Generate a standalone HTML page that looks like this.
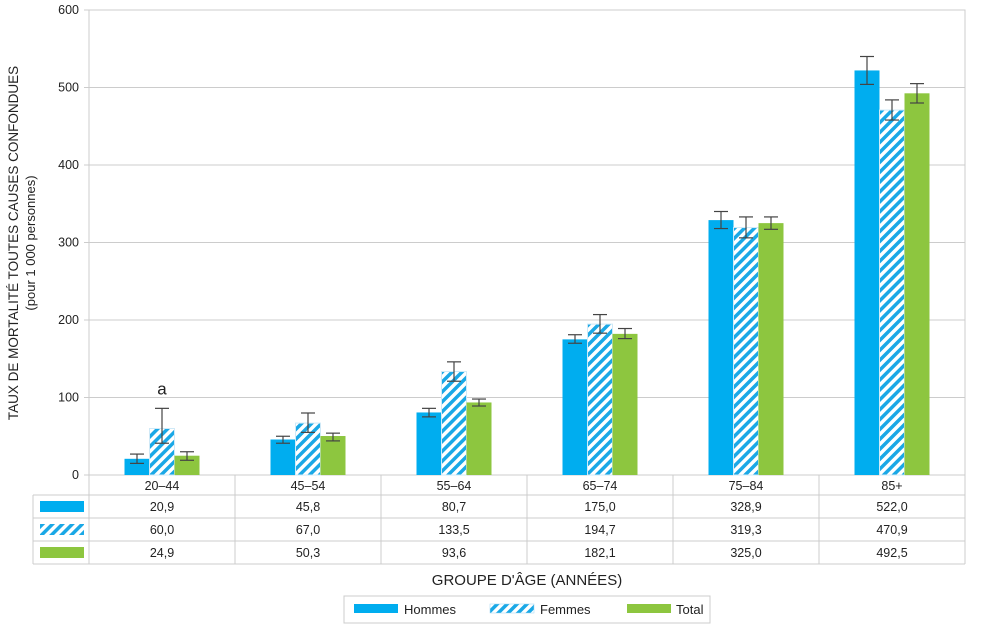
<!DOCTYPE html>
<html><head><meta charset="utf-8"><style>
body{margin:0;background:#fff;font-family:"Liberation Sans",sans-serif;}
svg text{font-family:"Liberation Sans",sans-serif;fill:#222;}
</style></head><body>
<svg id="chart" width="982" height="630" xmlns="http://www.w3.org/2000/svg">
<defs>
<pattern id="hatch" patternUnits="userSpaceOnUse" width="7" height="7" patternTransform="rotate(45)">
<rect width="7" height="7" fill="#fff"/><rect width="3.5" height="7" fill="#1aa8e6"/>
</pattern>
</defs>
<g id="grid"></g><g id="bars"></g><g id="table"></g>
<text transform="translate(18,243) rotate(-90)" text-anchor="middle" font-size="13.5">TAUX DE MORTALITÉ TOUTES CAUSES CONFONDUES</text>
<text transform="translate(35,243) rotate(-90)" text-anchor="middle" font-size="13">(pour 1 000 personnes)</text>
<text x="527" y="585" text-anchor="middle" font-size="15">GROUPE D'ÂGE (ANNÉES)</text>
<g>
<rect x="344" y="596" width="366" height="27" fill="#fff" stroke="#ccc"/>
<rect x="354" y="604" width="44" height="9" fill="#00adef"/>
<text x="404" y="614" font-size="13">Hommes</text>
<rect x="490" y="604" width="44" height="9" fill="url(#hatch)" stroke="#9dd6f2" stroke-width="0.5"/>
<text x="540" y="614" font-size="13">Femmes</text>
<rect x="627" y="604" width="44" height="9" fill="#8dc63f"/>
<text x="676" y="614" font-size="13">Total</text>
</g>
</svg>
<script>
const categories=["20–44","45–54","55–64","65–74","75–84","85+"];
const hommes=[20.9,45.8,80.7,175.0,328.9,522.0];
const femmes=[60.0,67.0,133.5,194.7,319.3,470.9];
const total=[24.9,50.3,93.6,182.1,325.0,492.5];
const hommesLow=[15,41,75,170,318,504];
const hommesHigh=[27,50,86,181,340,540];
const femmesLow=[41,55,121,183,306,458];
const femmesHigh=[86,80,146,207,333,484];
const totalLow=[19,44,89,176,317,480];
const totalHigh=[30,54,98,189,333,505];
const yTicks=[0,100,200,300,400,500,600];
const labels=[["20,9","45,8","80,7","175,0","328,9","522,0"],["60,0","67,0","133,5","194,7","319,3","470,9"],["24,9","50,3","93,6","182,1","325,0","492,5"]];

const NS="http://www.w3.org/2000/svg";
const X0=89,X1=965,Y0=475,Y1=10,yMax=600;
const gw=(X1-X0)/categories.length;
function y(v){return Y0-(v/yMax)*(Y0-Y1);}
function gx(i){return X0+gw*i;}
function mk(tag,attrs,parent,txt){const e=document.createElementNS(NS,tag);for(const k in attrs)e.setAttribute(k,attrs[k]);if(txt!==undefined)e.textContent=txt;parent.appendChild(e);return e;}
const grid=document.getElementById('grid'),bars=document.getElementById('bars'),table=document.getElementById('table');
mk('rect',{x:X0,y:Y1,width:X1-X0,height:Y0-Y1,fill:'none',stroke:'#ccc'},grid);
yTicks.forEach(t=>{
  const l=mk('line',{x1:X0-5,x2:X1,y1:y(t),y2:y(t),stroke:'#ccc'},grid);
  
  
  const tx=mk('text',{x:X0-10,y:y(t)+4,'text-anchor':'end','font-size':12.5},grid,t);
  
  
});
const series=[[hommes,hommesLow,hommesHigh,'#00adef','hommes'],[femmes,femmesLow,femmesHigh,'url(#hatch)','femmes'],[total,totalLow,totalHigh,'#8dc63f','total']];
const bw=25;
categories.forEach((c,i)=>{
  const cx=gx(i)+gw/2;
  series.forEach((s,j)=>{
    const bx=cx-1.5*bw+j*bw, v=s[0][i];
    const r=mk('rect',{x:bx,y:y(v),width:bw,height:Y0-y(v),fill:s[3]},bars);
    if(j==1){r.setAttribute('stroke','#cfe9f7');r.setAttribute('stroke-width','1');}
    
    
    const ex=bx+bw/2,lo=y(s[1][i]),hi=y(s[2][i]);
    const g=mk('g',{stroke:'#444','stroke-width':1.2},bars);
    
    
    mk('line',{x1:ex,x2:ex,y1:lo,y2:hi},g);
    mk('line',{x1:ex-7,x2:ex+7,y1:lo,y2:lo},g);
    mk('line',{x1:ex-7,x2:ex+7,y1:hi,y2:hi},g);
  });
});
const a=mk('text',{x:gx(0)+gw/2,y:y(femmesHigh[0])-14,'text-anchor':'middle','font-size':17},bars,'a');


const rows=[475,495,518,541,564];
mk('line',{x1:33,x2:X1,y1:rows[4],y2:rows[4],stroke:'#ccc'},table);
for(let r=1;r<4;r++)mk('line',{x1:33,x2:X1,y1:rows[r],y2:rows[r],stroke:'#ccc'},table);
mk('line',{x1:33,x2:33,y1:rows[1],y2:rows[4],stroke:'#ccc'},table);
for(let i=0;i<=categories.length;i++)mk('line',{x1:gx(i),x2:gx(i),y1:Y0,y2:rows[4],stroke:'#ccc'},table);
categories.forEach((c,i)=>{
  const t=mk('text',{x:gx(i)+gw/2,y:490,'text-anchor':'middle','font-size':12.5},table,c);
  
  
  labels.forEach((row,r)=>{
    const tv=mk('text',{x:gx(i)+gw/2,y:rows[r+1]+16,'text-anchor':'middle','font-size':12.5},table,row[i]);
    
    
  });
});
series.forEach((s,r)=>{
  const sw=mk('rect',{x:40,y:rows[r+1]+6,width:44,height:11,fill:s[3]},table);
  
  
});
</script>
</body></html>
